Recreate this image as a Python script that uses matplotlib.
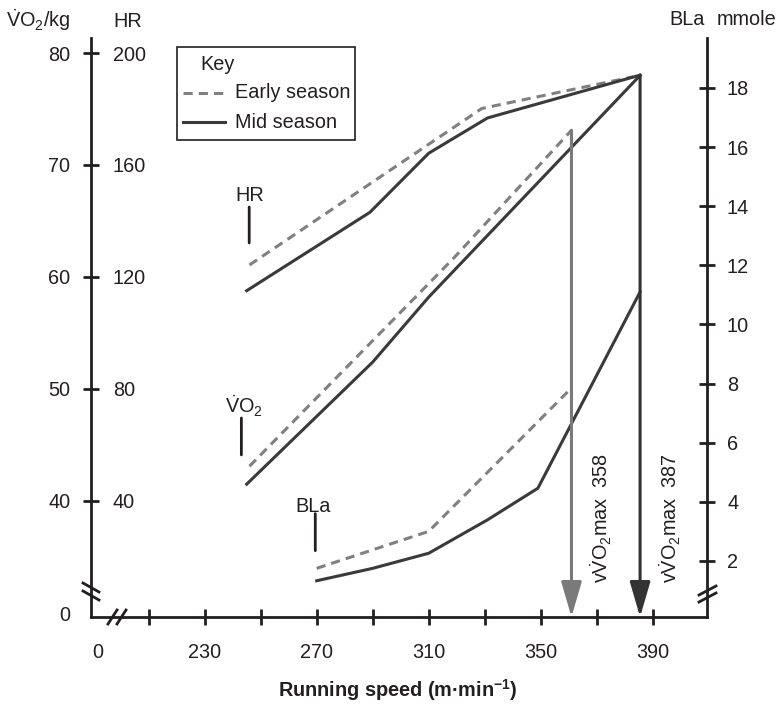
import matplotlib
matplotlib.use("Agg")
import matplotlib.pyplot as plt
from matplotlib.lines import Line2D
from matplotlib.patches import Rectangle

plt.rcParams["font.family"] = ["Liberation Sans", "DejaVu Sans"]
plt.rcParams["mathtext.fontset"] = "custom"
plt.rcParams["mathtext.rm"] = "Liberation Sans"
plt.rcParams["mathtext.it"] = "Liberation Sans:italic"
plt.rcParams["mathtext.bf"] = "Liberation Sans:bold"

# heart rate (bpm)
hr_speed_early = [246, 329, 383]
hr_early = [124.3, 180.2, 191.5]
hr_speed_mid = [245, 289, 310, 331, 385.5]
hr_mid = [115.1, 143.1, 164.2, 176.8, 192.1]

# VO2 (ml/kg/min)
vo2_speed_early = [246, 319, 361]
vo2_early = [43.1, 61.7, 73.1]
vo2_speed_mid = [245, 290, 310, 385.5]
vo2_mid = [41.5, 52.4, 58.2, 78.0]

# blood lactate (mmol)
bla_speed_early = [270, 310, 361]
bla_early = [1.75, 3.0, 7.85]
bla_speed_mid = [270, 290, 310, 331, 349, 385.5]
bla_mid = [1.33, 1.75, 2.26, 3.39, 4.46, 11.1]

vvo2max_labels = ["358", "387"]

x_ticks = [210, 230, 250, 270, 290, 310, 330, 350, 370, 390]
x_ticklabels = ["", "230", "", "270", "", "310", "", "350", "", "390"]
vo2_ticks = [40, 50, 60, 70, 80]
hr_ticks = [40, 80, 120, 160, 200]
bla_ticks = [2, 4, 6, 8, 10, 12, 14, 16, 18]

INK = "#231f20"
DARK = "#3a3a3a"
GREY = "#808080"
FS = 14.3
LW = 2.2

W, H = 779, 704
fig = plt.figure(figsize=(W / 100, H / 100), dpi=100)
ax = fig.add_axes([91 / W, 87 / H, 616 / W, 579 / H])
ax.set_xlim(189.4, 409.4)
ax.set_ylim(29.64, 81.34)

ax_hr = ax.twinx()
ax_hr.set_ylim(4 * 29.64 - 120, 4 * 81.34 - 120)
ax_bla = ax.twinx()
ax_bla.set_ylim(0.104, 19.69)

for a in (ax, ax_hr, ax_bla):
    for s in a.spines.values():
        s.set_visible(False)
        s.set_linewidth(2)
        s.set_color(INK)
ax.spines["left"].set_visible(True)
ax.spines["bottom"].set_visible(True)
ax_bla.spines["right"].set_visible(True)
ax_hr.spines["right"].set_position(("axes", 0))

ax.set_xticks(x_ticks)
ax.set_xticklabels(x_ticklabels)
ax.set_yticks(vo2_ticks)
ax.tick_params(axis="x", direction="inout", length=12, width=2, pad=12.7,
               labelsize=FS, colors=INK)
ax.tick_params(axis="y", direction="inout", length=12, width=2, pad=9,
               labelsize=FS, colors=INK)
ax_hr.set_yticks(hr_ticks)
ax_hr.tick_params(axis="y", length=0, pad=15.8, labelsize=FS, colors=INK)
ax_bla.set_yticks(bla_ticks)
ax_bla.tick_params(axis="y", direction="inout", length=12, width=2, pad=8.4,
                   labelsize=FS, colors=INK)

dash = (0, (3, 2))
ax_hr.plot(hr_speed_early, hr_early, color=GREY, lw=LW, ls=dash)
ax_hr.plot(hr_speed_mid, hr_mid, color=DARK, lw=LW)
ax.plot(vo2_speed_early, vo2_early, color=GREY, lw=LW, ls=dash)
ax.plot(vo2_speed_mid, vo2_mid, color=DARK, lw=LW)
ax_bla.plot(bla_speed_early, bla_early, color=GREY, lw=LW, ls=dash)
ax_bla.plot(bla_speed_mid, bla_mid, color=DARK, lw=LW)

# vVO2max arrows, from the end of each VO2 curve down to the x axis
ybase = ax.get_ylim()[0]
for xs, ys, col, lab in [(vo2_speed_early, vo2_early, "#7a7a7a", vvo2max_labels[0]),
                         (vo2_speed_mid, vo2_mid, "#333333", vvo2max_labels[1])]:
    ax_bla.annotate("", xy=(xs[-1], ybase), xycoords=ax.transData,
                    xytext=(xs[-1], ys[-1]), textcoords=ax.transData,
                    arrowprops=dict(arrowstyle="-|>,head_length=1.2,head_width=0.35",
                                    mutation_scale=18, lw=LW, color=col,
                                    shrinkA=0, shrinkB=0))
    ax_bla.annotate("v$\\dot{\\mathrm{V}}\\mathrm{O}_2$max  " + lab,
                    xy=(xs[-1], ybase), xycoords=ax.transData,
                    xytext=(21.6, 24.5), textcoords="offset points",
                    rotation=90, ha="center", va="bottom", fontsize=FS, color=INK)

# curve labels with leader ticks
lead = dict(arrowstyle="-", lw=2, color=INK, shrinkA=0, shrinkB=0)
ax.text(246.0, 67.32, "HR", ha="center", va="center", fontsize=FS, color=INK)
ax.annotate("", xy=(245.9, 63.04), xytext=(245.9, 66.25), arrowprops=lead)
ax.text(237.4, 47.83, "$\\dot{\\mathrm{V}}\\mathrm{O}_2$", ha="left", va="baseline",
        fontsize=FS, color=INK)
ax.annotate("", xy=(243.1, 44.11), xytext=(243.1, 47.41), arrowprops=lead)
ax.text(268.8, 39.05, "BLa", ha="center", va="baseline", fontsize=FS, color=INK)
ax.annotate("", xy=(269.5, 35.56), xytext=(269.5, 38.87), arrowprops=lead)

# zero labels at the broken axes
ax.annotate("0", xy=(0, 0), xycoords="axes fraction", xytext=(-15.1, 1),
            textcoords="offset points", ha="right", va="center", fontsize=FS, color=INK)
ax.annotate("0", xy=(7 / 616, 0), xycoords="axes fraction", xytext=(0, -18.7),
            textcoords="offset points", ha="center", va="top", fontsize=FS, color=INK)


def fx(x):
    return x / W


def fy(y):
    return 1 - y / H


# axis break marks
for seg in [((83, 583), (99, 592)), ((83, 591), (99, 600)),
            ((108, 624), (117, 610)), ((117, 624), (126, 610)),
            ((699, 602), (716, 593)), ((699, 595), (716, 586))]:
    (x0, y0), (x1, y1) = seg
    fig.add_artist(Line2D([fx(x0), fx(x1)], [fy(y0), fy(y1)], lw=2, color=INK))

# headers
fig.text(fx(70), fy(27), "$\\dot{\\mathrm{V}}\\mathrm{O}_2$/kg", ha="right", va="baseline",
         fontsize=FS, color=INK)
fig.text(fx(127.5), fy(27), "HR", ha="center", va="baseline", fontsize=FS, color=INK)
fig.text(fx(687), fy(25), "BLa", ha="center", va="baseline", fontsize=FS, color=INK)
fig.text(fx(747), fy(25), "mmole", ha="center", va="baseline", fontsize=FS, color=INK)
fig.text(fx(398), fy(697), "Running speed (m·min$^{\\mathbf{-1}}$)", ha="center",
         va="baseline", fontsize=FS, fontweight="bold", color=INK)

# key box
fig.add_artist(Rectangle((fx(177), fy(140)), fx(355) - fx(177), fy(47) - fy(140),
                         transform=fig.transFigure, fill=False, lw=1.2, ec=INK))
fig.text(fx(200.5), fy(65), "Key", ha="left", va="center", fontsize=FS, color=INK)
fig.add_artist(Line2D([fx(183), fx(225)], [fy(93), fy(93)], lw=LW, color=GREY, ls=dash))
fig.add_artist(Line2D([fx(183), fx(225)], [fy(122), fy(122)], lw=LW, color=DARK))
fig.text(fx(235), fy(93), "Early season", ha="left", va="center", fontsize=FS, color=INK)
fig.text(fx(235), fy(122), "Mid season", ha="left", va="center", fontsize=FS, color=INK)

fig.savefig("out.png", dpi=100)
